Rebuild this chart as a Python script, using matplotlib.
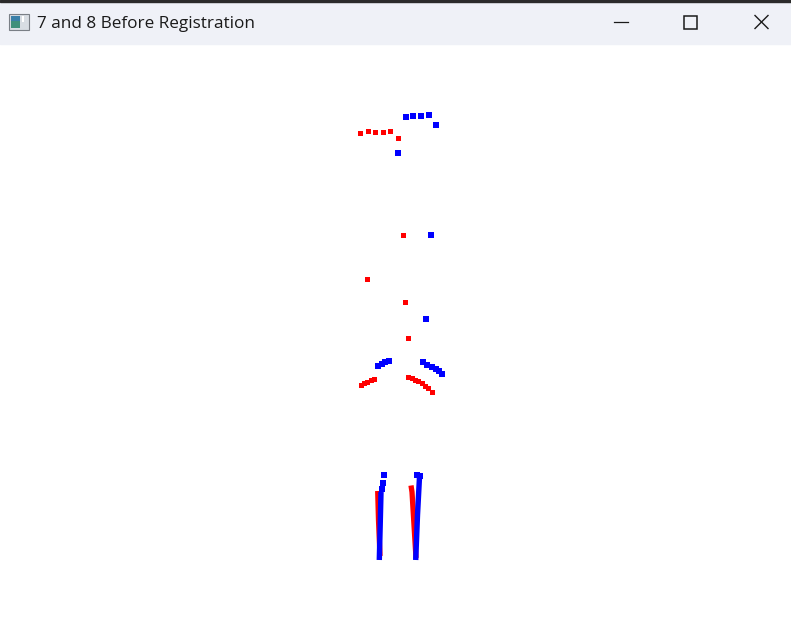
import matplotlib
matplotlib.use("Agg")
import matplotlib.pyplot as plt
from matplotlib.patches import Rectangle

W, H = 791, 642

# point positions (pixel coords, y down)
red_x = [360, 367.7, 375, 382.7, 390, 397.7,
         402.7, 367, 405.3, 407.7,
         361, 364, 367.3, 370.7, 374,
         408.3, 411.7, 415, 418.3, 421.7, 425, 428.3, 431.7]
red_y = [133, 130.7, 132, 132, 131, 137.7,
         234.7, 279, 301.7, 338.3,
         385, 383.3, 381.7, 380.3, 379,
         376.7, 378.3, 379.7, 381.3, 383.3, 385.7, 388.3, 391.7]

blue_x = [405.7, 413.3, 421.3, 429, 435.7, 397.7,
          431, 425.7,
          378.3, 381.7, 385, 389,
          423.3, 427.3, 431.7, 435.7, 439, 442,
          384.3, 382.7, 381.7, 416.7, 420]
blue_y = [116.7, 115.7, 115.7, 115.3, 125.3, 153.3,
          235.3, 318.7,
          365.7, 363.7, 362, 360.7,
          362.3, 364.7, 366.7, 369, 371.3, 374.3,
          474.7, 483.3, 489, 474.7, 476]

# leg scans (dense points, drawn as polylines)
red_leg_l_x = [377.7, 378.5, 380]
red_leg_l_y = [491, 520, 556]
red_leg_r_x = [411, 412, 416]
red_leg_r_y = [485.5, 492, 558]
blue_leg_l_x = [381, 380.2, 379.3]
blue_leg_l_y = [492, 525, 560]
blue_leg_r_x = [419.5, 417.5, 415.7]
blue_leg_r_y = [477, 515, 560]

fig = plt.figure(figsize=(W / 100, H / 100), dpi=100)
ax = fig.add_axes([0, 0, 1, 1])
ax.set_xlim(0, W)
ax.set_ylim(H, 0)
ax.axis("off")

# window title bar
ax.add_patch(Rectangle((0, 0), W, 44, color="#eff1f7", zorder=0))
ax.add_patch(Rectangle((0, 0), W, 2, color="#2b2b2b", zorder=1))
# app icon
ax.add_patch(Rectangle((8.5, 13.5), 20, 16, facecolor="#d8dde3", edgecolor="#7a7f86", lw=0.8, zorder=2))
ax.add_patch(Rectangle((10.5, 15.5), 9, 12, facecolor="#3f8f7a", edgecolor="none", zorder=3))
ax.add_patch(Rectangle((10.5, 15.5), 9, 5, facecolor="#3a7fa8", edgecolor="none", zorder=3))
ax.add_patch(Rectangle((22, 16), 2, 6, facecolor="white", edgecolor="none", zorder=3))
ax.text(37, 23.5, "7 and 8 Before Registration", fontsize=12.3, family="Open Sans",
        va="center", ha="left", color="#1a1a1a")
# window buttons
ax.plot([614, 628], [22, 22], color="#1a1a1a", lw=0.9)
ax.add_patch(Rectangle((683.5, 15.5), 13, 13, facecolor="none", edgecolor="#1a1a1a", lw=1.1))
ax.plot([755, 768], [15.5, 28.5], color="#1a1a1a", lw=1.0)
ax.plot([755, 768], [28.5, 15.5], color="#1a1a1a", lw=1.0)

# point clouds
ax.plot(red_leg_l_x, red_leg_l_y, color="red", lw=3.8, solid_capstyle="butt")
ax.plot(red_leg_r_x, red_leg_r_y, color="red", lw=3.8, solid_capstyle="butt")
ax.plot(blue_leg_l_x, blue_leg_l_y, color="blue", lw=3.9, solid_capstyle="butt")
ax.plot(blue_leg_r_x, blue_leg_r_y, color="blue", lw=3.9, solid_capstyle="butt")
ax.plot(red_x, red_y, "s", color="red", ms=3.6, mew=0)
ax.plot(blue_x, blue_y, "s", color="blue", ms=3.8, mew=0)

fig.savefig("out.png", dpi=100, facecolor="white")
